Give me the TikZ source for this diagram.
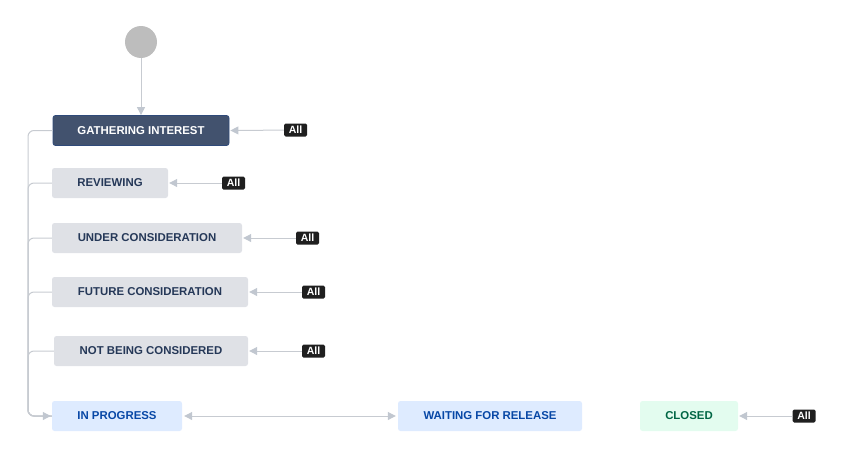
\documentclass[tikz,border=0pt]{standalone}
\usepackage{fontspec}
\setmainfont{Liberation Sans}
\usetikzlibrary{arrows.meta}
\definecolor{linegray}{HTML}{C7CBD1}
\definecolor{tipgray}{HTML}{C1C7D0}
\definecolor{startgray}{HTML}{BDBDBD}
\definecolor{darkfill}{HTML}{42526E}
\definecolor{darkborder}{HTML}{2F4A7A}
\definecolor{grayfill}{HTML}{DFE1E6}
\definecolor{graytext}{HTML}{253858}
\definecolor{bluefill}{HTML}{DEEBFF}
\definecolor{bluetext}{HTML}{0747A6}
\definecolor{greenfill}{HTML}{E3FCEF}
\definecolor{greentext}{HTML}{006644}
\tikzset{
  x=1pt,y=-1pt,
  status/.style={rounded corners=2.5pt, minimum height=30pt, inner sep=0pt, font=\fontsize{11.4}{13}\selectfont\bfseries, anchor=center},
  graybox/.style={status, fill=grayfill, text=graytext},
  bluebox/.style={status, fill=bluefill, text=bluetext},
  greenbox/.style={status, fill=greenfill, text=greentext},
  darkbox/.style={status, fill=darkfill, draw=darkborder, line width=0.8pt, text=white},
  allbadge/.style={fill=black!88, text=white, rounded corners=1.5pt, inner sep=0pt, minimum width=23pt, minimum height=13pt, font=\fontsize{10.5}{12}\selectfont\bfseries},
  conn/.style={draw=linegray, line width=1pt, -{Triangle[length=8pt,width=8pt,color=tipgray]}},
  branch/.style={draw=linegray, line width=1pt, rounded corners=6pt},
}
\begin{document}
\begin{tikzpicture}
\useasboundingbox (0,0) rectangle (847,450);
\node[circle, fill=startgray, minimum size=32pt, inner sep=0pt] (start) at (141,42) {};
\node[darkbox, minimum width=176pt] (gi) at (141,130.5) {GATHERING INTEREST};
\node[graybox, minimum width=116pt] (rv) at (110,183) {REVIEWING};
\node[graybox, minimum width=190pt] (uc) at (147,238) {UNDER CONSIDERATION};
\node[graybox, minimum width=196pt] (fc) at (150,292) {FUTURE CONSIDERATION};
\node[graybox, minimum width=194pt] (nb) at (151,351) {NOT BEING CONSIDERED};
\node[bluebox, minimum width=130pt] (ip) at (117,416) {IN PROGRESS};
\node[bluebox, minimum width=184pt] (wr) at (490,416) {WAITING FOR RELEASE};
\node[greenbox, minimum width=98pt] (cl) at (689,416) {CLOSED};
\node[allbadge] (a1) at (295.5,130) {All};
\node[allbadge] (a2) at (233.5,183) {All};
\node[allbadge] (a3) at (307.5,238) {All};
\node[allbadge] (a4) at (313.5,292) {All};
\node[allbadge] (a5) at (313.5,351) {All};
\node[allbadge] (a6) at (804,416) {All};
\coordinate (rail) at (28,0);
\draw[conn] (start) -- (gi);
\draw[conn] (a1) -- ([xshift=1pt]gi.east);
\draw[conn] (a2) -- ([xshift=1pt]rv.east);
\draw[conn] (a3) -- ([xshift=1pt]uc.east);
\draw[conn] (a4) -- ([xshift=1pt]fc.east);
\draw[conn] (a5) -- ([xshift=1pt]nb.east);
\draw[conn] (a6) -- ([xshift=1pt]cl.east);
\draw[branch] (rv.west) -- (rv.west -| rail) -- (ip.west -| rail) -- (ip.west);
\draw[branch] (uc.west) -- (uc.west -| rail) -- (ip.west -| rail) -- (ip.west);
\draw[branch] (fc.west) -- (fc.west -| rail) -- (ip.west -| rail) -- (ip.west);
\draw[branch] (nb.west) -- (nb.west -| rail) -- (ip.west -| rail) -- (ip.west);
\draw[branch, -{Triangle[length=8pt,width=8pt,color=tipgray]}] (gi.west) -- (gi.west -| rail) -- (ip.west -| rail) -- ([xshift=-1pt]ip.west);
\draw[conn, {Triangle[length=8pt,width=8pt,color=tipgray]}-{Triangle[length=8pt,width=8pt,color=tipgray]}] ([xshift=2pt]ip.east) -- ([xshift=-2pt]wr.west);
\end{tikzpicture}
\end{document}
